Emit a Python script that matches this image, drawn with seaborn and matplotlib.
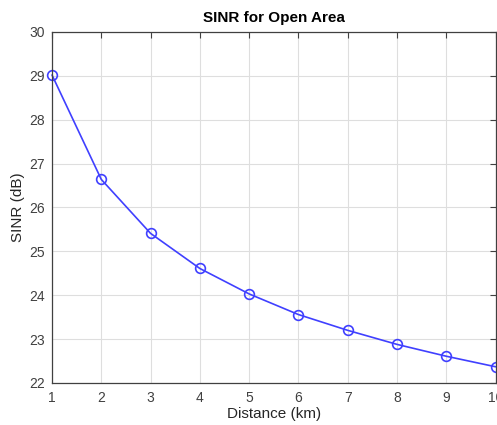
import matplotlib
matplotlib.use("Agg")
import matplotlib.pyplot as plt
import seaborn as sns
import pandas as pd

distance_km = [1, 2, 3, 4, 5, 6, 7, 8, 9, 10]
sinr_db = [29.02, 26.64, 25.41, 24.61, 24.03, 23.56, 23.20, 22.88, 22.61, 22.37]
x_ticks = [1, 2, 3, 4, 5, 6, 7, 8, 9, 10]
y_ticks = [22, 23, 24, 25, 26, 27, 28, 29, 30]

sns.set_style("white")
plt.rcParams['font.family'] = ['Liberation Sans', 'DejaVu Sans']

df = pd.DataFrame({"Distance (km)": distance_km, "SINR (dB)": sinr_db})

fig = plt.figure(figsize=(4.97, 4.25), dpi=100)
ax = fig.add_axes([52/497, 1 - 383/425, 443.6/497, (383 - 32)/425])

sns.lineplot(data=df, x="Distance (km)", y="SINR (dB)", ax=ax, color="#4040ff",
             marker="o", markersize=7, markerfacecolor="none",
             markeredgecolor="#4040ff", markeredgewidth=1.2, linewidth=1.2,
             clip_on=False)

ax.set_xlim(1, 10)
ax.set_ylim(22, 30)
ax.set_xticks(x_ticks)
ax.set_yticks(y_ticks)
ax.grid(True, color="#dedede", linewidth=0.8)
for s in ax.spines.values():
    s.set_color("#404040")
    s.set_linewidth(0.9)
ax.tick_params(direction="in", length=4, colors="#404040", labelsize=10,
               top=True, right=True, labelcolor="#404040", width=0.8)
ax.tick_params(axis="x", pad=6)
ax.tick_params(axis="y", pad=5)
ax.set_xlabel("Distance (km)", fontsize=11, color="#262626", labelpad=1)
ax.set_ylabel("SINR (dB)", fontsize=11, color="#262626", labelpad=3)
ax.set_title("SINR for Open Area", fontsize=11, fontweight="bold", color="black", pad=7)

fig.savefig("out.png", dpi=100)
